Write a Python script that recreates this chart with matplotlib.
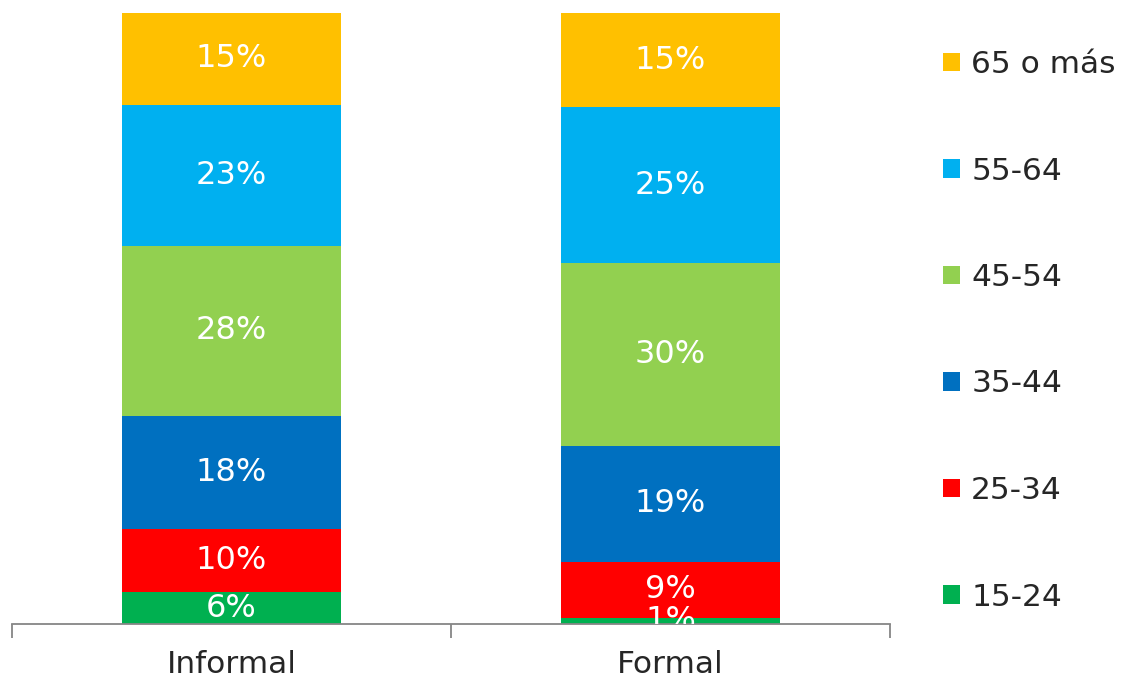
import matplotlib
matplotlib.use("Agg")
import matplotlib.pyplot as plt
from matplotlib.patches import Patch

categories = ["Informal", "Formal"]
groups = ["15-24", "25-34", "35-44", "45-54", "55-64", "65 o más"]
informal = [5.2, 10.4, 18.4, 27.9, 23.0, 15.1]
formal = [1.0, 9.2, 18.9, 30.0, 25.4, 15.4]
colors = ["#00B050", "#FF0000", "#0070C0", "#92D050", "#00B0F0", "#FFC000"]
labels_inf = ["6%", "10%", "18%", "28%", "23%", "15%"]
labels_for = ["1%", "9%", "19%", "30%", "25%", "15%"]

plt.rcParams['font.family'] = ['DejaVu Sans']
fig = plt.figure(figsize=(11.28, 6.82), dpi=100)
ax = fig.add_axes([12/1128, 1-624/682, (890-12)/1128, (624-12)/682])

series = list(zip(informal, formal))
bottoms = [0.0, 0.0]
for i, g in enumerate(groups):
    vals = series[i]
    ax.bar([0, 1], vals, width=0.5, bottom=bottoms, color=colors[i], label=g, zorder=2)
    for j, (v, b) in enumerate(zip(vals, bottoms)):
        lab = labels_inf[i] if j == 0 else labels_for[i]
        ax.text(j, b + v/2, lab, ha='center', va='center', color='white',
                fontsize=23, clip_on=True, zorder=3)
    bottoms = [bottoms[k] + vals[k] for k in range(2)]

ax.set_xlim(-0.5, 1.5)
ax.set_ylim(0, 100.1)
for s in ['top', 'right', 'left']:
    ax.spines[s].set_visible(False)
ax.spines['bottom'].set_color('#868686')
ax.spines['bottom'].set_linewidth(1.3)
ax.set_yticks([])
ax.set_xticks([-0.5, 0.5, 1.5])
ax.set_xticklabels([])
ax.tick_params(axis='x', which='major', direction='out', length=10, width=1.3, color='#868686')
ax.set_xticks([0, 1], minor=True)
ax.set_xticklabels(categories, minor=True, fontsize=22.5, color='#262626')
ax.tick_params(axis='x', which='minor', length=0, pad=19)

handles = [Patch(facecolor=colors[i], label=groups[i]) for i in range(len(groups))][::-1]
leg = fig.legend(handles=handles, loc='upper left', bbox_to_anchor=(943/1128, 1-50/682),
                 frameon=False, fontsize=22.5, handlelength=0.55, handleheight=0.55,
                 handletextpad=0.35, labelspacing=2.48, borderaxespad=0, borderpad=0)
for t in leg.get_texts():
    t.set_color('#262626')

fig.savefig("out.png", dpi=100)
